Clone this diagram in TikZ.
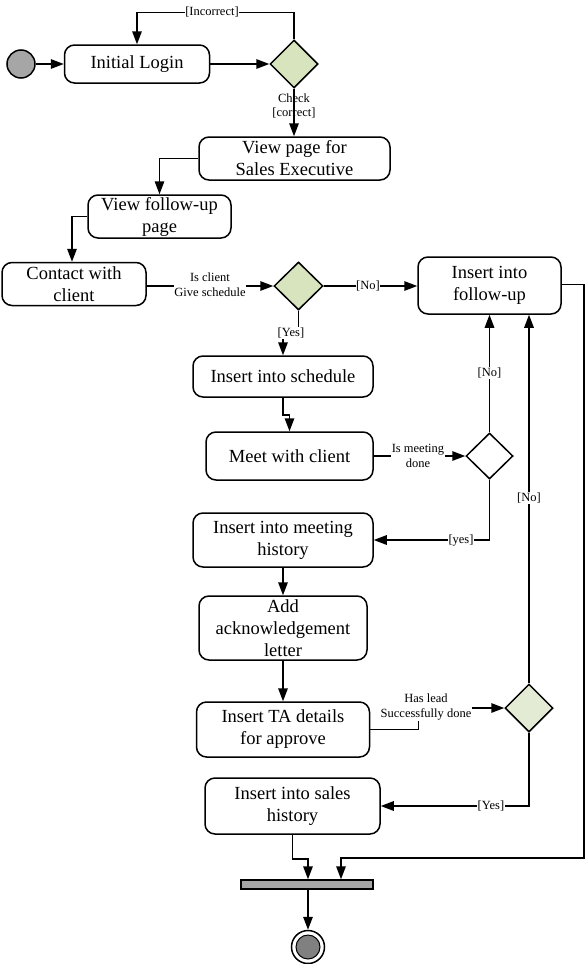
\documentclass[tikz,border=0pt]{standalone}
\usepackage{fontspec}
\setmainfont{Liberation Serif}
\usetikzlibrary{arrows.meta,shapes.geometric}
\definecolor{dgreen}{HTML}{D7E4BD}
\definecolor{dgreenl}{HTML}{E3EBD5}
\definecolor{startgray}{HTML}{A6A6A6}
\definecolor{endgray}{HTML}{808080}
\tikzset{
  act/.style={draw, line width=1.5pt, rounded corners=10pt, align=center, inner sep=0pt,
    font=\fontsize{18.5}{22}\selectfont},
  dec/.style={draw, diamond, line width=1.5pt, inner sep=0pt, fill=dgreen},
  arr/.style={line width=1.5pt, -{Triangle[length=13pt,width=9.5pt]}},
  ln/.style={line width=1.5pt},
  lbl/.style={fill=white, inner sep=0.5pt, align=center, font=\fontsize{12.5}{15}\selectfont},
}
\begin{document}
\begin{tikzpicture}[x=1pt,y=-1pt]
\useasboundingbox (0,0) rectangle (587,964);
% nodes
\node[circle, draw, line width=1.5pt, fill=startgray, minimum size=28pt, inner sep=0pt] (start) at (21,64) {};
\node[act, minimum width=145pt, minimum height=38pt] (login) at (137,64) {Initial Login};
\node[dec, minimum width=48pt, minimum height=48pt] (d1) at (294,64) {};
\node[act, minimum width=191pt, minimum height=43pt] (vp) at (294.5,158.5) {View page for\\Sales Executive};
\node[act, minimum width=143pt, minimum height=43pt] (vf) at (159.5,216.5) {View follow-up\\page};
\node[act, minimum width=144pt, minimum height=43pt] (cc) at (74,284) {Contact with\\client};
\node[dec, minimum width=49pt, minimum height=48pt] (d2) at (298.5,286) {};
\node[act, minimum width=143pt, minimum height=57pt] (fu) at (489.5,285.5) {Insert into\\follow-up};
\node[act, minimum width=180pt, minimum height=41pt] (sched) at (283,376.5) {Insert into schedule};
\node[act, minimum width=167pt, minimum height=48pt] (meet) at (289.5,456) {Meet with client};
\node[dec, fill=white, minimum width=47pt, minimum height=46pt] (d3) at (489.5,456) {};
\node[act, minimum width=180pt, minimum height=54pt] (mh) at (283,540) {Insert into meeting\\history};
\node[act, minimum width=168pt, minimum height=64pt] (ack) at (283,628) {Add\\acknowledgement\\letter};
\node[act, minimum width=173pt, minimum height=55pt] (ta) at (283,729.5) {Insert TA details\\for approve};
\node[dec, fill=dgreenl, minimum width=48pt, minimum height=48pt] (d4) at (529,708) {};
\node[act, minimum width=175pt, minimum height=56pt] (sales) at (292.5,806) {Insert into sales\\history};
\node[draw, line width=1.5pt, fill=startgray, minimum width=132pt, minimum height=9pt, inner sep=0pt] (bar) at (307,884.5) {};
\node[circle, draw, line width=1.5pt, fill=white, minimum size=33pt, inner sep=0pt] (endc) at (308,947) {};
\node[circle, draw, line width=1pt, fill=endgray, minimum size=24pt, inner sep=0pt] (endin) at (endc) {};
% connectors
\draw[arr] (start) -- (login);
\draw[arr] (login.east) -- (d1.west);
\draw[arr] (d1.north) -- ++(0,-27) -| (login.north);
\draw[arr] (d1.south) -- (vp.north -| d1.south);
\draw[arr] (vp.west) -| (vf.north);
\draw[arr] (vf.west) -| ([xshift=-2pt]cc.north);
\draw[arr] (cc.east |- d2.west) -- (d2.west);
\draw[arr] (d2.east) -- (fu.west |- d2.east);
\draw[arr] (d2.south) -- ++(0,23) -| (sched.north);
\draw[arr] (sched.south) -- ++(0,17) -| (meet.north);
\draw[arr] (meet.east) -- (d3.west);
\draw[arr] (d3.north) -- (fu.south);
\draw[arr] (d3.south) |- (mh.east);
\draw[arr] (mh.south) -- (ack.north);
\draw[arr] (ack.south) -- (ta.north);
\draw[arr] (ta.east) -- ++(48,0) |- (d4.west);
\draw[arr] (d4.north) -- (d4.north |- fu.south);
\draw[arr] (d4.south) |- (sales.east);
\draw[arr] (sales.south) -- ++(0,24) -| ([xshift=1pt]bar.north);
\draw[arr] ([yshift=1pt]fu.east) -- ++(22,0) |- (358,858) -| ([xshift=34pt]bar.north);
\draw[arr] ([xshift=1pt]bar.south) -- ([xshift=0pt]endc.north);
% labels
\node[lbl] (lincorrect) at (212,12) {[Incorrect]};
\node[lbl, fill=none] (lcheck) at (294,106) {Check\\[-1pt][correct]};
\node[lbl] (lgive) at (210,285) {Is client\\Give schedule};
\node[lbl] (lno1) at (368,286) {[No]};
\node[lbl] (lyes1) at (291,333) {[Yes]};
\node[lbl] (lmeet) at (418,456) {Is meeting\\done};
\node[lbl] (lno2) at (489.5,373) {[No]};
\node[lbl] (lyes2) at (461,541) {[yes]};
\node[lbl] (llead) at (426,707) {Has lead\\Successfully done};
\node[lbl] (lno3) at (529,498) {[No]};
\node[lbl] (lyes3) at (491,806) {[Yes]};
\end{tikzpicture}
\end{document}
